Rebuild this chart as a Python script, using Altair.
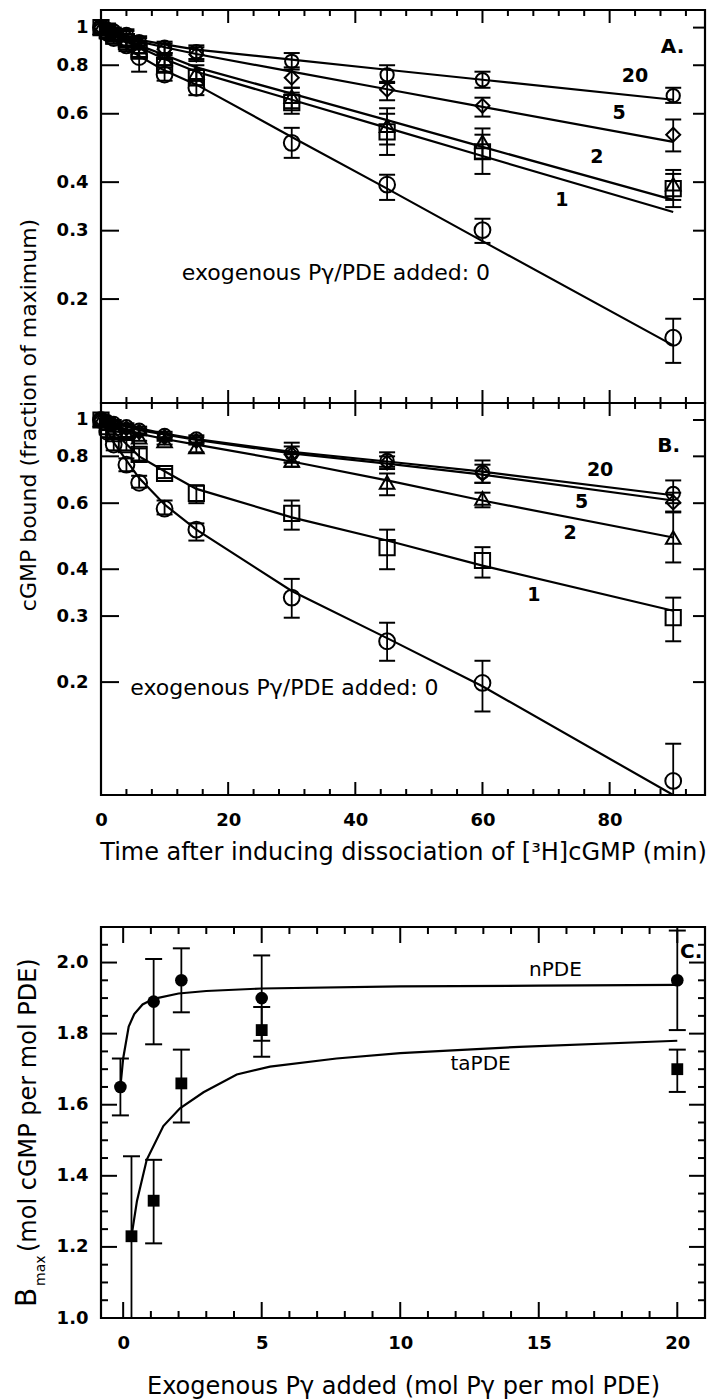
import altair as alt
import pandas as pd

FONT = "DejaVu Sans"

# ---------------- Panels A and B : dissociation kinetics ----------------
TIMES = [0, 1, 2, 4, 6, 10, 15, 30, 45, 60, 90]
SERIES = ["0", "1", "2", "5", "20"]
SHAPES = ["circle", "square", "triangle-up", "diamond", "circle"]
SIZES = [250, 140, 160, 190, 200]

A_VAL = {
    "0": [1.00, 0.97, 0.94, 0.90, 0.84, 0.757, 0.70, 0.505, 0.394, 0.301, 0.159],
    "1": [1.00, 0.98, 0.95, 0.92, 0.87, 0.80, 0.743, 0.641, 0.539, 0.479, 0.385],
    "2": [1.00, 0.98, 0.96, 0.93, 0.89, 0.83, 0.765, 0.664, 0.559, 0.508, 0.395],
    "5": [1.00, 0.99, 0.97, 0.95, 0.91, 0.88, 0.852, 0.743, 0.692, 0.629, 0.530],
    "20": [1.00, 0.99, 0.98, 0.96, 0.92, 0.89, 0.867, 0.819, 0.756, 0.734, 0.668],
}
A_LO = {
    "0": [0.98, 0.94, 0.91, 0.87, 0.77, 0.73, 0.67, 0.462, 0.36, 0.279, 0.137],
    "1": [0.98, 0.96, 0.92, 0.89, 0.84, 0.77, 0.71, 0.60, 0.47, 0.42, 0.345],
    "2": [0.98, 0.96, 0.93, 0.90, 0.86, 0.80, 0.73, 0.62, 0.50, 0.46, 0.36],
    "5": [0.98, 0.97, 0.95, 0.92, 0.88, 0.85, 0.82, 0.70, 0.65, 0.59, 0.48],
    "20": [0.98, 0.97, 0.96, 0.93, 0.89, 0.86, 0.83, 0.79, 0.725, 0.70, 0.64],
}
A_HI = {
    "0": [1.02, 1.00, 0.97, 0.93, 0.92, 0.79, 0.73, 0.552, 0.418, 0.322, 0.178],
    "1": [1.02, 1.00, 0.98, 0.95, 0.90, 0.83, 0.78, 0.68, 0.60, 0.53, 0.42],
    "2": [1.02, 1.00, 0.99, 0.96, 0.92, 0.86, 0.80, 0.70, 0.62, 0.55, 0.43],
    "5": [1.02, 1.01, 0.99, 0.98, 0.94, 0.91, 0.89, 0.78, 0.72, 0.66, 0.58],
    "20": [1.02, 1.01, 1.00, 0.99, 0.95, 0.92, 0.90, 0.86, 0.80, 0.77, 0.70],
}

B_VAL = {
    "0": [1.00, 0.93, 0.86, 0.76, 0.68, 0.58, 0.51, 0.336, 0.257, 0.199, 0.109],
    "1": [1.00, 0.96, 0.92, 0.86, 0.81, 0.72, 0.637, 0.564, 0.457, 0.422, 0.297],
    "2": [1.00, 0.98, 0.95, 0.92, 0.90, 0.88, 0.847, 0.78, 0.682, 0.618, 0.486],
    "5": [1.00, 0.99, 0.97, 0.95, 0.93, 0.90, 0.88, 0.81, 0.77, 0.72, 0.603],
    "20": [1.00, 0.99, 0.98, 0.96, 0.94, 0.91, 0.89, 0.815, 0.78, 0.726, 0.637],
}
B_LO = {
    "0": [0.98, 0.90, 0.83, 0.73, 0.66, 0.56, 0.477, 0.297, 0.228, 0.167, 0.085],
    "1": [0.98, 0.94, 0.89, 0.83, 0.78, 0.70, 0.60, 0.51, 0.40, 0.38, 0.257],
    "2": [0.98, 0.96, 0.93, 0.90, 0.88, 0.86, 0.82, 0.75, 0.63, 0.585, 0.417],
    "5": [0.98, 0.97, 0.95, 0.93, 0.91, 0.88, 0.86, 0.77, 0.74, 0.68, 0.57],
    "20": [0.98, 0.97, 0.96, 0.94, 0.92, 0.89, 0.87, 0.77, 0.75, 0.68, 0.60],
}
B_HI = {
    "0": [1.02, 0.96, 0.89, 0.79, 0.71, 0.61, 0.53, 0.377, 0.288, 0.228, 0.137],
    "1": [1.02, 0.98, 0.95, 0.89, 0.84, 0.74, 0.67, 0.61, 0.51, 0.458, 0.336],
    "2": [1.02, 1.00, 0.97, 0.94, 0.92, 0.90, 0.87, 0.81, 0.72, 0.64, 0.567],
    "5": [1.02, 1.01, 0.99, 0.97, 0.95, 0.92, 0.90, 0.85, 0.80, 0.76, 0.64],
    "20": [1.02, 1.01, 1.00, 0.98, 0.96, 0.93, 0.91, 0.87, 0.82, 0.78, 0.69],
}

FIT_T = [0, 2, 6, 10, 15, 30, 45, 60, 90]
A_FIT = {
    "0": [1.0, 0.93, 0.845, 0.775, 0.713, 0.523, 0.385, 0.282, 0.152],
    "1": [1.0, 0.95, 0.89, 0.83, 0.77, 0.652, 0.552, 0.467, 0.335],
    "2": [1.0, 0.96, 0.90, 0.85, 0.79, 0.676, 0.578, 0.493, 0.36],
    "5": [1.0, 0.97, 0.92, 0.89, 0.855, 0.77, 0.694, 0.625, 0.508],
    "20": [1.0, 0.975, 0.93, 0.905, 0.878, 0.827, 0.779, 0.734, 0.652],
}
B_FIT = {
    "0": [1.0, 0.87, 0.70, 0.595, 0.51, 0.35, 0.262, 0.195, 0.100],
    "1": [1.0, 0.93, 0.80, 0.73, 0.655, 0.55, 0.477, 0.409, 0.31],
    "2": [1.0, 0.97, 0.92, 0.89, 0.86, 0.775, 0.69, 0.61, 0.486],
    "5": [1.0, 0.98, 0.94, 0.915, 0.885, 0.815, 0.765, 0.715, 0.61],
    "20": [1.0, 0.985, 0.95, 0.92, 0.89, 0.822, 0.775, 0.728, 0.63],
}

LABEL_TEXT = ["20", "5", "2", "1"]
A_LABEL_T = [84.0, 81.5, 78.0, 72.5]
A_LABEL_V = [0.752, 0.603, 0.465, 0.360]
B_LABEL_T = [78.5, 75.6, 73.8, 68.1]
B_LABEL_V = [0.735, 0.603, 0.501, 0.342]
EXO_TEXT = "exogenous Pγ/PDE added:  0"

Y_TICKS_AB = [0.2, 0.3, 0.4, 0.6, 0.8, 1.0]
X_TICKS_AB = [0, 20, 40, 60, 80]
X_MINOR_AB = [4, 8, 12, 16, 24, 28, 32, 36, 44, 48, 52, 56, 64, 68, 72, 76, 84, 88, 92]

# ---------------- Panel C : Bmax vs added Pγ ----------------
N_X = [-0.1, 1.1, 2.1, 5.0, 20.0]
N_Y = [1.65, 1.89, 1.95, 1.90, 1.95]
N_LO = [1.57, 1.77, 1.86, 1.78, 1.81]
N_HI = [1.73, 2.01, 2.04, 2.02, 2.09]
T_X = [0.3, 1.1, 2.1, 5.0, 20.0]
T_Y = [1.23, 1.33, 1.66, 1.81, 1.70]
T_LO = [0.995, 1.21, 1.55, 1.735, 1.636]
T_HI = [1.455, 1.445, 1.755, 1.875, 1.755]
N_CURVE_X = [-0.1, 0.0, 0.2, 0.4, 0.7, 1.1, 2.0, 3.0, 5.0, 10.0, 15.0, 20.0]
N_CURVE_Y = [1.65, 1.73, 1.82, 1.855, 1.882, 1.898, 1.913, 1.92, 1.927, 1.933, 1.935, 1.937]
T_CURVE_X = [0.3, 0.5, 0.85, 1.45, 2.05, 2.9, 4.1, 5.3, 7.7, 10.0, 14.3, 20.0]
T_CURVE_Y = [1.23, 1.33, 1.445, 1.54, 1.59, 1.635, 1.685, 1.707, 1.73, 1.745, 1.763, 1.78]
C_X_TICKS = [0, 5, 10, 15, 20]
C_X_MINOR = [1, 2, 3, 4, 6, 7, 8, 9, 11, 12, 13, 14, 16, 17, 18, 19]
C_Y_TICKS = [1.0, 1.2, 1.4, 1.6, 1.8, 2.0]
C_Y_MINOR = [1.05, 1.1, 1.15, 1.25, 1.3, 1.35, 1.45, 1.5, 1.55, 1.65, 1.7, 1.75,
             1.85, 1.9, 1.95, 2.05]

# ---------------- layout constants ----------------
W = 604
H_A = 393
H_B = 392
GAP = 132
H_C = 391
C_TOTAL = GAP + H_C
BLACK = "black"


def one_row():
    return pd.DataFrame({"k": [0]})


def frame(y0, y1):
    return alt.Chart(one_row()).mark_rect(fillOpacity=0, stroke=BLACK, strokeWidth=2.2).encode(
        x=alt.value(0), x2=alt.value(W), y=alt.value(y0), y2=alt.value(y1))


def hticks(vals, Yf, x0, x1):
    return alt.Chart(pd.DataFrame({"val": vals})).mark_rule(color=BLACK, strokeWidth=2).encode(
        y=Yf("val"), x=alt.value(x0), x2=alt.value(x1))


def vticks(vals, Xf, y0, y1):
    return alt.Chart(pd.DataFrame({"val": vals})).mark_rule(color=BLACK, strokeWidth=2).encode(
        x=Xf("val"), y=alt.value(y0), y2=alt.value(y1))


def kinetic_panel(vals, los, his, fits, lab_t, lab_v, ydom, h, letter, letter_t, letter_v,
                  exo_t, exo_v, show_x):
    rows = []
    for s in SERIES:
        for t, v, lo, hi in zip(TIMES, vals[s], los[s], his[s]):
            rows.append({"series": s, "t": t, "v": v, "lo": lo, "hi": hi})
    pts = pd.DataFrame(rows)
    fit = pd.DataFrame([{"series": s, "t": t, "v": v}
                        for s in SERIES for t, v in zip(FIT_T, fits[s])])
    labels = pd.DataFrame({"label": LABEL_TEXT, "t": lab_t, "v": lab_v})
    letter_df = pd.DataFrame({"label": [letter], "t": [letter_t], "v": [letter_v]})
    exo_df = pd.DataFrame({"label": [EXO_TEXT], "t": [exo_t], "v": [exo_v]})

    xs = alt.Scale(domain=[0, 95], nice=False, zero=False)
    ys = alt.Scale(type="log", domain=ydom, nice=False)
    if show_x:
        xaxis = alt.Axis(values=X_TICKS_AB, format="d",
                         title="Time after inducing dissociation of [³H]cGMP (min)",
                         labelPadding=16, titlePadding=11, grid=False)
    else:
        xaxis = None
    yaxis = alt.Axis(values=Y_TICKS_AB, format="~g", title=None, labelPadding=13, grid=False)

    def Xf(f):
        return alt.X(f, type="quantitative", scale=xs, axis=xaxis)

    def Yf(f):
        return alt.Y(f, type="quantitative", scale=ys, axis=yaxis)

    layers = [
        frame(0, h),
        hticks(Y_TICKS_AB, Yf, 0, 18),
        hticks(Y_TICKS_AB, Yf, W, W - 12),
        vticks(X_TICKS_AB[1:], Xf, 0, 13),
        vticks(X_MINOR_AB, Xf, 0, 6),
        vticks(X_TICKS_AB[1:], Xf, h, h - 13),
        vticks(X_MINOR_AB, Xf, h, h - 6),
        alt.Chart(fit).mark_line(color=BLACK, strokeWidth=2.2, clip=True).encode(
            x=Xf("t"), y=Yf("v"), detail="series:N"),
        alt.Chart(pts).mark_rule(color=BLACK, strokeWidth=1.8, clip=True).encode(
            x=Xf("t"), y=Yf("lo"), y2=alt.Y2("hi")),
        alt.Chart(pts).mark_tick(orient="horizontal", size=16, thickness=2, color=BLACK,
                                 clip=True, opacity=1).encode(x=Xf("t"), y=Yf("lo")),
        alt.Chart(pts).mark_tick(orient="horizontal", size=16, thickness=2, color=BLACK,
                                 clip=True, opacity=1).encode(x=Xf("t"), y=Yf("hi")),
        alt.Chart(pts).mark_point(filled=False, color=BLACK, strokeWidth=2, opacity=1).encode(
            x=Xf("t"), y=Yf("v"),
            shape=alt.Shape("series:N", scale=alt.Scale(domain=SERIES, range=SHAPES), legend=None),
            size=alt.Size("series:N", scale=alt.Scale(domain=SERIES, range=SIZES), legend=None)),
        alt.Chart(labels).mark_text(font=FONT, fontSize=19, fontWeight="bold", color=BLACK).encode(
            x=Xf("t"), y=Yf("v"), text="label:N"),
        alt.Chart(letter_df).mark_text(font=FONT, fontSize=20, fontWeight="bold",
                                       color=BLACK).encode(
            x=Xf("t"), y=Yf("v"), text="label:N"),
        alt.Chart(exo_df).mark_text(font=FONT, fontSize=22, color=BLACK, align="left").encode(
            x=Xf("t"), y=Yf("v"), text="label:N"),
    ]
    if show_x:
        title_df = pd.DataFrame({"label": ["cGMP bound (fraction of maximum)"]})
        layers.append(alt.Chart(title_df).mark_text(
            font=FONT, fontSize=22, color=BLACK, angle=270, align="center",
            baseline="middle").encode(x=alt.value(-72), y=alt.value(12), text="label:N"))
    return alt.layer(*layers).properties(width=W, height=h)


panel_a = kinetic_panel(A_VAL, A_LO, A_HI, A_FIT, A_LABEL_T, A_LABEL_V, [0.108, 1.11], H_A,
                        "A.", 89.9, 0.893, 12.7, 0.233, False)
panel_b = kinetic_panel(B_VAL, B_LO, B_HI, B_FIT, B_LABEL_T, B_LABEL_V, [0.1, 1.11], H_B,
                        "B.", 89.3, 0.85, 4.6, 0.193, True)

# ---------------- panel C ----------------
c_pts = pd.DataFrame({
    "pde": ["nPDE"] * len(N_X) + ["taPDE"] * len(T_X),
    "x": N_X + T_X, "y": N_Y + T_Y, "lo": N_LO + T_LO, "hi": N_HI + T_HI,
})
c_curve = pd.DataFrame({
    "pde": ["nPDE"] * len(N_CURVE_X) + ["taPDE"] * len(T_CURVE_X),
    "x": N_CURVE_X + T_CURVE_X, "y": N_CURVE_Y + T_CURVE_Y,
})
c_labels = pd.DataFrame({"label": ["nPDE", "taPDE"], "x": [15.6, 12.9], "y": [1.98, 1.715]})
c_letter = pd.DataFrame({"label": ["C."], "x": [20.5], "y": [2.03]})

cxs = alt.Scale(domain=[-0.8, 21.0], nice=False, zero=False)
cys = alt.Scale(domain=[1.0, 2.1], range=[C_TOTAL, GAP], nice=False, zero=False)
cxaxis = alt.Axis(values=C_X_TICKS, format="d", title="Exogenous Pγ added (mol Pγ per mol PDE)",
                  labelPadding=16, titlePadding=22, grid=False)
cyaxis = alt.Axis(values=C_Y_TICKS, format=".1f", title=None, labelPadding=13, grid=False)


def CX(f):
    return alt.X(f, type="quantitative", scale=cxs, axis=cxaxis)


def CY(f):
    return alt.Y(f, type="quantitative", scale=cys, axis=cyaxis)


c_title_b = pd.DataFrame({"label": ["B"]})
c_title_max = pd.DataFrame({"label": ["max"]})
c_title_rest = pd.DataFrame({"label": ["(mol cGMP per mol PDE)"]})

c_layers = [
    frame(GAP, C_TOTAL),
    hticks(C_Y_TICKS[1:], CY, 0, 16),
    hticks(C_Y_MINOR, CY, 0, 7),
    hticks(C_Y_TICKS[1:], CY, W, W - 16),
    hticks(C_Y_MINOR, CY, W, W - 7),
    vticks(C_X_TICKS, CX, GAP, GAP + 16),
    vticks(C_X_MINOR, CX, GAP, GAP + 7),
    vticks(C_X_TICKS, CX, C_TOTAL, C_TOTAL - 16),
    vticks(C_X_MINOR, CX, C_TOTAL, C_TOTAL - 7),
    alt.Chart(c_curve).mark_line(color=BLACK, strokeWidth=2.2, clip=True).encode(
        x=CX("x"), y=CY("y"), detail="pde:N"),
    alt.Chart(c_pts).mark_rule(color=BLACK, strokeWidth=1.8, clip=True).encode(
        x=CX("x"), y=CY("lo"), y2=alt.Y2("hi")),
    alt.Chart(c_pts).mark_tick(orient="horizontal", size=17, thickness=2, color=BLACK,
                               clip=True, opacity=1).encode(x=CX("x"), y=CY("lo")),
    alt.Chart(c_pts).mark_tick(orient="horizontal", size=17, thickness=2, color=BLACK,
                               clip=True, opacity=1).encode(x=CX("x"), y=CY("hi")),
    alt.Chart(c_pts).mark_point(filled=True, color=BLACK, opacity=1).encode(
        x=CX("x"), y=CY("y"),
        shape=alt.Shape("pde:N", scale=alt.Scale(domain=["nPDE", "taPDE"],
                                                 range=["circle", "square"]), legend=None),
        size=alt.Size("pde:N", scale=alt.Scale(domain=["nPDE", "taPDE"], range=[300, 180]),
                      legend=None)),
    alt.Chart(c_labels).mark_text(font=FONT, fontSize=20, color=BLACK).encode(
        x=CX("x"), y=CY("y"), text="label:N"),
    alt.Chart(c_letter).mark_text(font=FONT, fontSize=20, fontWeight="bold", color=BLACK).encode(
        x=CX("x"), y=CY("y"), text="label:N"),
    alt.Chart(c_title_b).mark_text(font=FONT, fontSize=28, color=BLACK, angle=270,
                                   align="left", baseline="middle").encode(
        x=alt.value(-73), y=alt.value(512), text="label:N"),
    alt.Chart(c_title_max).mark_text(font=FONT, fontSize=14, color=BLACK, angle=270,
                                     align="left", baseline="middle").encode(
        x=alt.value(-60), y=alt.value(491), text="label:N"),
    alt.Chart(c_title_rest).mark_text(font=FONT, fontSize=24, color=BLACK, angle=270,
                                      align="left", baseline="middle").encode(
        x=alt.value(-72), y=alt.value(457), text="label:N"),
]
panel_c = alt.layer(*c_layers).properties(width=W, height=C_TOTAL)

chart = alt.vconcat(panel_a, panel_b, panel_c, spacing=0, bounds="flush").properties(
    padding={"left": 13, "top": 8, "right": 0, "bottom": 0}
).configure(background="white").configure_view(stroke="transparent").configure_axis(
    labelFont=FONT, labelFontSize=18, labelFontWeight="bold", labelColor=BLACK,
    titleFont=FONT, titleFontSize=24, titleFontWeight="normal", titleColor=BLACK,
    grid=False, domain=False, ticks=False, labelFlush=False, labelOverlap=False
)

chart.save("out.html", embed_options={"renderer": "svg", "actions": False})
